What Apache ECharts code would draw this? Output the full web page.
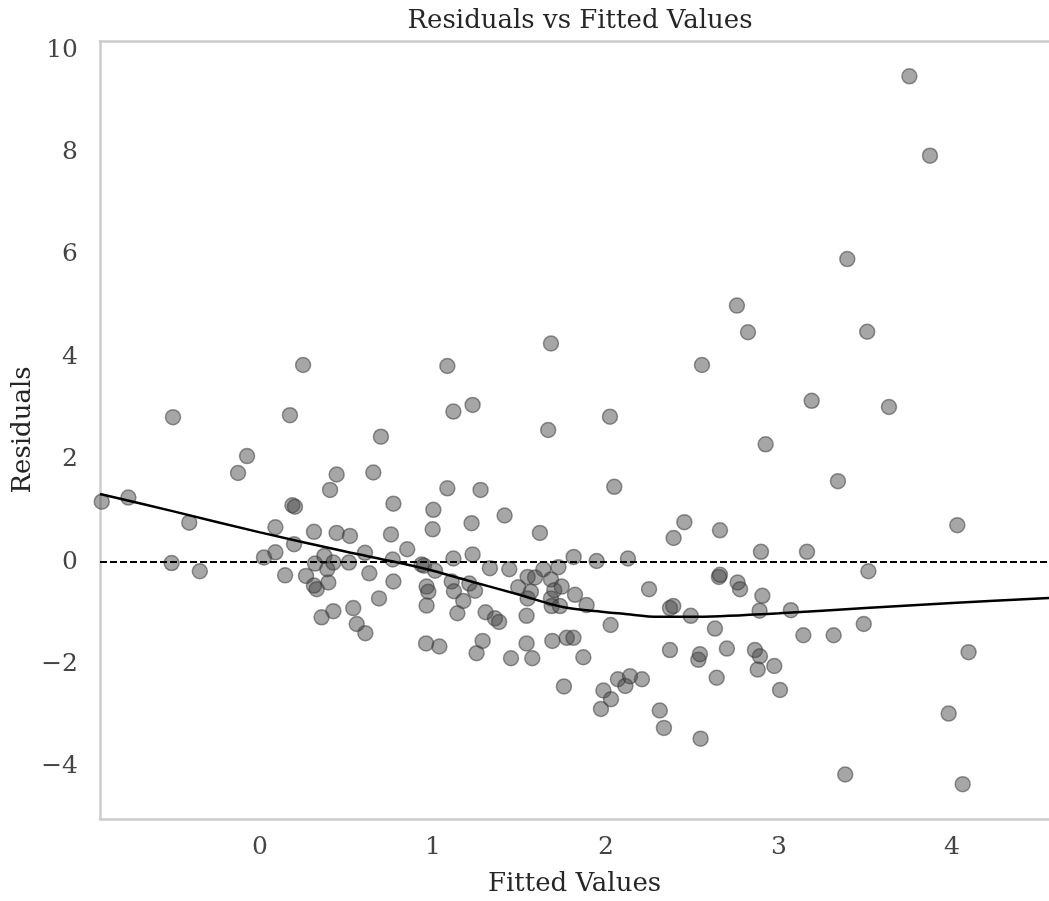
<!DOCTYPE html>
<html>
<head>
<meta charset="utf-8">
<script src="https://cdn.jsdelivr.net/npm/echarts@6/dist/echarts.min.js"></script>
<style>
html,body{margin:0;padding:0;background:#fff;}
#chart{width:1049px;height:901px;}
</style>
</head>
<body>
<div id="chart"></div>
<script>
// Fitted values (x) and residuals (y)
const fittedValues = [
-0.915,-0.761,-0.503,-0.511,-0.409,-0.348,-0.127,-0.075,0.023,0.089,
0.089,0.145,0.173,0.187,0.202,0.197,0.249,0.266,0.312,0.318,
0.312,0.328,0.372,0.389,0.395,0.424,0.405,0.443,0.443,0.520,
0.514,0.539,0.424,0.356,0.559,0.609,0.607,0.632,0.655,0.699,
0.688,0.757,0.767,0.771,0.771,0.851,0.934,0.948,0.963,0.973,
0.963,0.960,1.002,0.998,1.012,1.037,1.083,1.083,1.108,1.118,
1.118,1.121,1.141,1.175,1.210,1.223,1.229,1.229,1.243,1.252,
1.275,1.287,1.304,1.329,1.358,1.382,1.414,1.441,1.451,1.493,
1.541,1.541,1.547,1.547,1.566,1.574,1.590,1.618,1.638,1.666,
1.682,1.682,1.682,1.686,1.690,1.701,1.725,1.744,1.734,1.757,
1.773,1.812,1.813,1.821,1.869,1.888,1.946,1.971,1.985,2.023,
2.027,2.029,2.048,2.069,2.112,2.127,2.139,2.208,2.249,2.311,
2.335,2.370,2.389,2.370,2.391,2.453,2.490,2.534,2.543,2.547,
2.555,2.630,2.640,2.653,2.659,2.659,2.699,2.757,2.761,2.775,
2.821,2.861,2.877,2.888,2.890,2.896,2.904,2.923,2.973,3.006,
3.069,3.141,3.162,3.189,3.316,3.341,3.383,3.395,3.490,3.510,
3.517,3.636,3.754,3.873,3.981,4.031,4.062,4.096,4.620
];
const residuals = [
1.18,1.26,2.83,-0.02,0.77,-0.18,1.74,2.07,0.09,0.68,
0.19,-0.26,2.87,1.11,1.08,0.35,3.85,-0.27,0.59,-0.03,
-0.46,-0.53,0.12,-0.14,-0.40,-0.01,1.41,1.71,0.57,0.51,
-0.01,-0.90,-0.96,-1.08,-1.21,-1.39,0.18,-0.22,1.75,2.45,
-0.71,0.54,0.05,1.14,-0.38,0.25,-0.05,-0.07,-0.48,-0.58,
-0.85,-1.59,1.02,0.64,-0.17,-1.65,3.83,1.44,-0.38,2.94,
0.07,-0.57,-1.00,-0.76,-0.42,0.76,3.07,0.15,-0.56,-1.78,
1.41,-1.54,-0.98,-0.12,-1.10,-1.17,0.91,-0.14,-1.88,-0.49,
-1.05,-1.59,-0.29,-0.71,-0.58,-1.88,-0.30,0.57,-0.14,2.58,
4.27,-0.34,-0.71,-0.86,-1.54,-0.55,-0.10,-0.48,-0.86,-2.43,
-1.48,-1.48,0.10,-0.64,-1.86,-0.84,0.02,-2.87,-2.51,2.84,
-1.23,-2.68,1.47,-2.29,-2.42,0.07,-2.23,-2.29,-0.53,-2.90,
-3.24,-0.90,-0.86,-1.72,0.47,0.78,-1.05,-1.91,-1.80,-3.45,
3.85,-1.30,-2.26,-0.29,-0.25,0.62,-1.69,5.01,-0.40,-0.53,
4.49,-1.72,-2.10,-0.95,-1.84,0.20,-0.66,2.30,-2.03,-2.50,
-0.94,-1.43,0.20,3.15,-1.43,1.58,-4.15,5.92,-1.21,4.50,
-0.18,3.03,9.49,7.94,-2.96,0.72,-4.34,-1.76,8.63
];
// LOWESS smooth line
const lowessX = [-0.925,-0.5,0.0,0.5,0.77,1.0,1.2,1.5,1.75,2.0,2.1,2.3,2.5,3.0,3.5,4.0,4.561];
const lowessY = [1.33,0.99,0.58,0.20,0.01,-0.17,-0.36,-0.64,-0.88,-0.98,-1.01,-1.07,-1.07,-1.00,-0.90,-0.80,-0.70];
const xTicks = [0,1,2,3,4];
const yTicks = [-4,-2,0,2,4,6,8,10];

const chart = echarts.init(document.getElementById('chart'), null, {renderer:'canvas'});
const font = 'DejaVu Serif';
const tickColor = '#444444';
const spine = {show:true, onZero:false, lineStyle:{color:'#cccccc', width:2.5}};
const fmt = v => String(v).replace('-', '\u2212');

chart.setOption({
  animation:false,
  backgroundColor:'#ffffff',
  title:{
    text:'Residuals vs Fitted Values',
    left:575, top:3, textAlign:'center',
    textStyle:{fontFamily:font, fontSize:26, fontWeight:'normal', color:'#262626'}
  },
  grid:{left:100, right:0, top:41, bottom:82, containLabel:false, outerBoundsMode:'none'},
  xAxis:[{
    type:'value', min:-0.925, max:4.561, position:'bottom',
    name:'Fitted Values', nameLocation:'middle', nameGap:52, nameMoveOverlap:false,
    nameTextStyle:{fontFamily:font, fontSize:26, color:'#262626'},
    axisLine:spine, axisTick:{show:false}, splitLine:{show:false},
    axisLabel:{customValues:xTicks, formatter:fmt, fontFamily:font, fontSize:25, color:tickColor, margin:16}
  },{
    type:'value', min:-0.925, max:4.561, position:'top',
    axisLine:spine, axisTick:{show:false}, splitLine:{show:false}, axisLabel:{show:false}
  }],
  yAxis:{
    type:'value', min:-5.02, max:10.18,
    name:'Residuals', nameLocation:'middle', nameGap:64, nameRotate:90, nameMoveOverlap:false,
    nameTextStyle:{fontFamily:font, fontSize:26, color:'#262626'},
    axisLine:spine, axisTick:{show:false}, splitLine:{show:false},
    axisLabel:{customValues:yTicks, formatter:fmt, fontFamily:font, fontSize:25, color:tickColor, margin:22}
  },
  series:[{
    type:'scatter',
    data:fittedValues.map((x,i)=>[x,residuals[i]]),
    symbolSize:15,
    clip:true,
    itemStyle:{color:'rgba(70,70,70,0.6)', borderColor:'rgba(55,55,55,0.65)', borderWidth:1.5},
    markLine:{
      silent:true, symbol:['none','none'], label:{show:false},
      lineStyle:{color:'#000', type:[7,3], width:2},
      data:[{yAxis:0}]
    },
    z:2
  },{
    type:'line',
    data:lowessX.map((x,i)=>[x,lowessY[i]]),
    smooth:0.3, showSymbol:false,
    lineStyle:{color:'#000', width:2.5},
    z:3
  }]
});
</script>
</body>
</html>
